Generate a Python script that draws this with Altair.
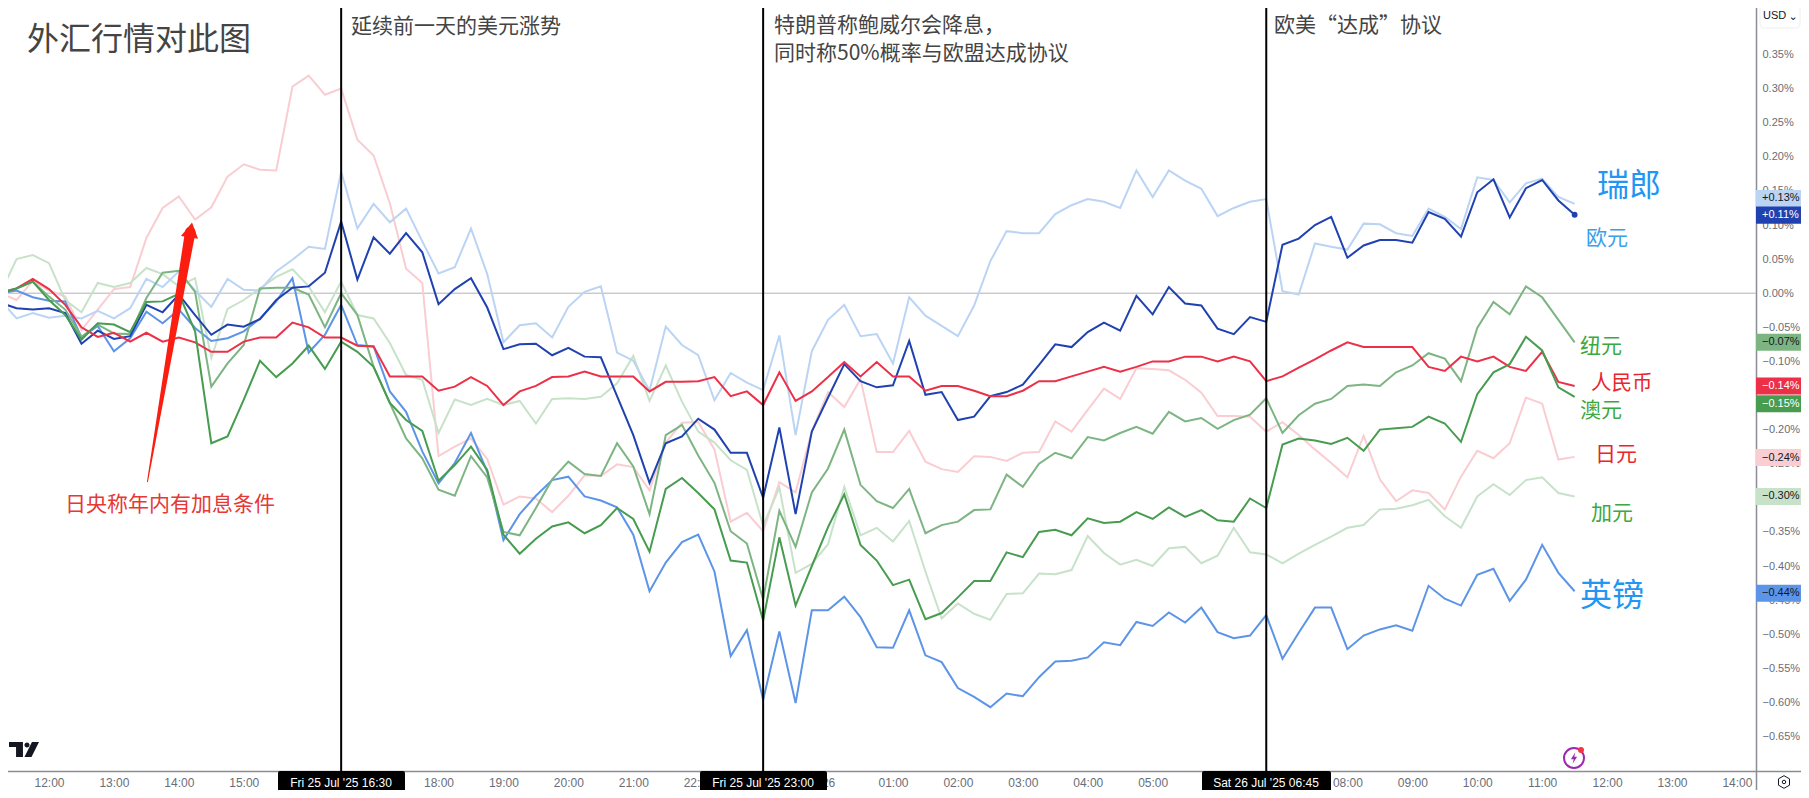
import altair as alt
import pandas as pd
from datetime import datetime, timedelta

SERIES_START = "2025-07-25 11:15"
POINTS = 98

EUR = [-.010,-.037,-.029,-.036,-.033,-.037,-.026,-.037,-.022,.021,
       .009,.032,.004,-.020,.021,.005,.004,.032,.049,.068,
       .065,.178,.095,.131,.104,.124,.076,.029,.038,.095,
       .028,-.072,-.047,-.044,-.065,-.020,.002,.010,-.087,-.099,
       -.143,-.049,-.076,-.091,-.157,-.117,-.131,-.142,-.062,-.208,
       -.085,-.039,-.017,-.063,-.060,-.103,-.006,-.033,-.048,-.063,
       -.018,.047,.091,.088,.088,.116,.129,.138,.134,.125,
       .180,.141,.180,.165,.153,.113,.125,.134,.138,.003,
       -.002,.073,.068,.064,.102,.101,.088,.084,.124,.112,
       .094,.170,.166,.133,.161,.168,.141,.131]
CHF = [-.014,-.022,-.024,-.022,-.029,-.074,-.055,-.067,-.063,-.017,
       -.028,-.002,-.032,-.061,-.046,-.049,-.038,-.010,.008,.010,
       .030,.105,.020,.082,.058,.088,.060,-.016,.006,.022,
       -.021,-.082,-.075,-.074,-.091,-.080,-.093,-.094,-.151,-.208,
       -.278,-.220,-.210,-.184,-.200,-.234,-.234,-.300,-.197,-.324,
       -.203,-.153,-.104,-.129,-.138,-.135,-.070,-.149,-.145,-.186,
       -.181,-.151,-.145,-.134,-.105,-.075,-.079,-.057,-.043,-.055,
       -.004,-.031,.009,-.015,-.018,-.052,-.060,-.035,-.042,.071,
       .080,.100,.112,.052,.070,.078,.078,.074,.119,.109,
       .083,.148,.167,.111,.154,.166,.136,.115]
GBP = [.000,.004,-.006,-.011,-.012,-.065,-.048,-.085,-.066,-.027,
       -.044,-.024,-.051,-.070,-.066,-.056,-.037,-.012,.022,-.087,
       -.061,-.017,-.076,-.078,-.144,-.174,-.232,-.279,-.249,-.205,
       -.262,-.362,-.324,-.297,-.274,-.269,-.298,-.304,-.314,-.354,
       -.437,-.395,-.365,-.354,-.408,-.532,-.494,-.596,-.496,-.601,
       -.465,-.465,-.445,-.475,-.519,-.520,-.465,-.531,-.541,-.579,
       -.592,-.607,-.587,-.591,-.563,-.540,-.539,-.534,-.512,-.516,
       -.482,-.488,-.468,-.483,-.461,-.497,-.506,-.502,-.472,-.536,
       -.498,-.461,-.461,-.522,-.502,-.493,-.487,-.495,-.429,-.448,
       -.458,-.413,-.404,-.451,-.420,-.369,-.410,-.437]
NZD = [.000,.007,.017,-.005,-.024,-.064,-.046,-.059,-.060,-.007,
       .030,.033,.002,-.137,-.103,-.076,.007,.008,.008,-.002,
       -.050,.000,-.032,-.108,-.161,-.213,-.242,-.288,-.297,-.239,
       -.270,-.350,-.355,-.315,-.273,-.247,-.265,-.268,-.220,-.254,
       -.324,-.208,-.193,-.238,-.278,-.349,-.367,-.449,-.319,-.372,
       -.292,-.257,-.200,-.281,-.305,-.315,-.287,-.352,-.340,-.335,
       -.318,-.317,-.266,-.284,-.250,-.234,-.242,-.211,-.216,-.205,
       -.196,-.206,-.174,-.188,-.183,-.199,-.186,-.178,-.154,-.205,
       -.179,-.162,-.155,-.136,-.134,-.136,-.116,-.106,-.088,-.096,
       -.129,-.051,-.013,-.031,.010,-.006,-.039,-.072]
AUD = [.001,.007,.017,-.010,-.032,-.068,-.044,-.046,-.057,-.013,
       -.012,-.001,-.056,-.220,-.210,-.156,-.099,-.123,-.103,-.077,
       -.111,-.071,-.086,-.108,-.161,-.186,-.202,-.275,-.252,-.225,
       -.259,-.354,-.382,-.360,-.342,-.336,-.352,-.340,-.315,-.331,
       -.379,-.287,-.271,-.293,-.317,-.392,-.395,-.480,-.358,-.458,
       -.400,-.343,-.295,-.369,-.392,-.428,-.420,-.478,-.469,-.446,
       -.422,-.422,-.380,-.387,-.350,-.347,-.355,-.330,-.337,-.335,
       -.321,-.331,-.314,-.328,-.318,-.333,-.335,-.301,-.315,-.222,
       -.213,-.216,-.221,-.212,-.231,-.200,-.198,-.196,-.181,-.191,
       -.218,-.148,-.116,-.104,-.064,-.084,-.138,-.152]
CAD = [.000,.050,.056,.044,-.010,-.028,.015,.009,.015,.037,
       .028,.010,.022,-.095,-.023,-.010,.007,.024,.035,.010,
       -.028,.017,-.032,-.037,-.073,-.120,-.127,-.205,-.156,-.164,
       -.155,-.164,-.158,-.191,-.155,-.154,-.155,-.152,-.132,-.092,
       -.158,-.106,-.159,-.203,-.219,-.245,-.259,-.341,-.285,-.410,
       -.397,-.368,-.284,-.355,-.344,-.364,-.334,-.408,-.477,-.455,
       -.470,-.479,-.441,-.440,-.411,-.412,-.406,-.356,-.381,-.398,
       -.391,-.400,-.374,-.372,-.396,-.385,-.344,-.380,-.383,-.396,
       -.382,-.369,-.357,-.344,-.340,-.317,-.316,-.311,-.303,-.327,
       -.344,-.298,-.280,-.296,-.274,-.270,-.293,-.298]
JPY = [.000,-.010,.018,.004,-.005,-.054,-.024,.006,.009,.081,
       .125,.142,.108,.126,.171,.189,.181,.180,.303,.319,
       .291,.300,.225,.202,.132,.036,.015,-.239,-.225,-.213,
       -.243,-.310,-.298,-.301,-.321,-.297,-.267,-.268,-.251,-.255,
       -.289,-.219,-.190,-.189,-.229,-.335,-.322,-.349,-.277,-.292,
       -.202,-.145,-.167,-.126,-.233,-.233,-.202,-.247,-.258,-.262,
       -.239,-.240,-.246,-.234,-.233,-.188,-.203,-.171,-.140,-.155,
       -.110,-.111,-.113,-.127,-.146,-.180,-.180,-.181,-.203,-.189,
       -.208,-.229,-.249,-.270,-.209,-.273,-.305,-.289,-.293,-.317,
       -.269,-.231,-.242,-.220,-.153,-.162,-.244,-.240]
CNY = [.000,.007,.021,.006,-.017,-.050,-.064,-.058,-.071,-.058,
       -.071,-.065,-.072,-.086,-.086,-.071,-.065,-.065,-.043,-.050,
       -.065,-.065,-.077,-.078,-.122,-.122,-.122,-.143,-.137,-.123,
       -.136,-.164,-.144,-.136,-.123,-.122,-.115,-.122,-.122,-.122,
       -.144,-.130,-.130,-.129,-.123,-.151,-.144,-.164,-.116,-.158,
       -.144,-.123,-.101,-.122,-.101,-.122,-.122,-.143,-.136,-.136,
       -.143,-.151,-.151,-.143,-.129,-.129,-.122,-.115,-.108,-.115,
       -.108,-.100,-.100,-.093,-.093,-.100,-.093,-.100,-.129,-.122,
       -.109,-.097,-.084,-.072,-.079,-.079,-.079,-.079,-.108,-.114,
       -.093,-.100,-.093,-.108,-.114,-.086,-.130,-.136]

SERIES = [("日元", JPY, "#f9cdd1"), ("加元", CAD, "#c8e2ca"), ("欧元", EUR, "#bbd4f4"),
          ("英镑", GBP, "#5c94e8"), ("纽元", NZD, "#7db582"), ("瑞郎", CHF, "#1f42b0"),
          ("人民币", CNY, "#ec3048"), ("澳元", AUD, "#479c4f")]

# hours after 12:00 on 25 Jul that carry a tick label; the others sit behind the crosshair tags
X_LABEL_HOURS = [0, 1, 2, 3, 6, 7, 8, 9, 10, 12, 13, 14, 15, 16, 17, 20, 21, 22, 23, 24, 25, 26]
Y_TICKS = [0.35, 0.30, 0.25, 0.20, 0.15, 0.10, 0.05, 0.00, -0.05, -0.10, -0.20,
           -0.25, -0.35, -0.40, -0.45, -0.50, -0.55, -0.60, -0.65]

EVENTS = [("2025-07-25 16:30", "Fri 25 Jul '25   16:30", 278, 405, 341),
          ("2025-07-25 23:00", "Fri 25 Jul '25   23:00", 700, 827, 763),
          ("2025-07-26 06:45", "Sat 26 Jul '25   06:45", 1202, 1331, 1266)]

PRICE_TAGS = [("+0.13%", .139, "#bbd4f4", "#131722"), ("+0.11%", .1145, "#1f42b0", "#ffffff"),
              ("−0.07%", -.072, "#7db582", "#131722"), ("−0.14%", -.136, "#ec3048", "#ffffff"),
              ("−0.15%", -.162, "#479c4f", "#ffffff"), ("−0.24%", -.241, "#f9cdd1", "#131722"),
              ("−0.30%", -.298, "#c8e2ca", "#131722"), ("−0.44%", -.440, "#5c94e8", "#131722")]

ANNOTATIONS = [
    ("外汇行情对此图", 27, 39.5, 32, "#444444"),
    ("延续前一天的美元涨势", 351, 27, 21, "#444444"),
    ("特朗普称鲍威尔会降息，", 774, 26, 21, "#444444"),
    ("同时称50%概率与欧盟达成协议", 774, 54, 21, "#444444"),
    ("欧美“达成”协议", 1274, 26, 21, "#444444"),
    ("瑞郎", 1597, 185.5, 32, "#2196f3"),
    ("欧元", 1586, 238.5, 21, "#3aa0ea"),
    ("纽元", 1580, 346.5, 21, "#3ba840"),
    ("人民币", 1591, 383.5, 20.5, "#e8262c"),
    ("澳元", 1580, 410.5, 21, "#3ba840"),
    ("日元", 1595, 454.5, 21, "#e8262c"),
    ("加元", 1591, 514, 21, "#3ba840"),
    ("英镑", 1580, 595.5, 32, "#2196f3"),
    ("日央称年内有加息条件", 65, 505, 21, "#e53935"),
]

ARROW_T = ["2025-07-25 13:31:00", "2025-07-25 14:10:30"]
ARROW_V = [-.2764, .0897]
ARROW_W = [1, 10.5]
ARROW_HEAD = ("2025-07-25 14:11:00", .0927)

PX_PER_HOUR = 64.92
X0 = 49.0
base = datetime(2025, 7, 25, 12)
FULL_W, FULL_H = 1801, 790
AXIS_X, AXIS_Y = 1756, 771
PX_PER_UNIT = 682.0
ZERO_Y = 293.2


def iso(d):
    return d.strftime("%Y-%m-%dT%H:%M:%S")


x_domain = [iso(base + timedelta(hours=-X0 / PX_PER_HOUR)),
            iso(base + timedelta(hours=(FULL_W - X0) / PX_PER_HOUR))]
y_domain = [(ZERO_Y - FULL_H) / PX_PER_UNIT, ZERO_Y / PX_PER_UNIT]
x_scale = alt.Scale(domain=x_domain)
y_scale = alt.Scale(domain=y_domain, nice=False, zero=False)

times = pd.date_range(SERIES_START, periods=POINTS, freq="15min").strftime("%Y-%m-%dT%H:%M:%S").tolist()
rows = []
for name, vals, _ in SERIES:
    assert len(vals) == POINTS, name
    rows += [{"series": name, "t": t, "v": v} for t, v in zip(times, vals)]
df = pd.DataFrame(rows)

GRAY = "#6a6d78"
FONT = "Liberation Sans"
CJK = "Noto Sans CJK SC"

x_axis = alt.Axis(
    title=None, orient="bottom", offset=AXIS_Y - FULL_H, grid=False, ticks=False,
    values=[iso(base + timedelta(hours=h)) for h in X_LABEL_HOURS],
    labelExpr="hours(datum.value)==0 ? '26' : timeFormat(datum.value,'%H:%M')",
    labelColor=GRAY, labelFont=FONT, labelFontSize=12, labelPadding=6, labelOverlap=False,
    labelFlush=False, domainColor="#8a8d96", domainWidth=1.5,
)
y_axis = alt.Axis(
    title=None, orient="right", offset=AXIS_X - FULL_W, grid=False, ticks=False,
    values=Y_TICKS,
    labelExpr="replace(format(datum.value,'.2f'),'-','−')+'%'",
    labelColor=GRAY, labelFont=FONT, labelFontSize=11, labelPadding=6, labelAlign="left",
    labelOverlap=False, labelFlush=False, domainColor="#8a8d96", domainWidth=1.5,
)


def X(f="t:T"):
    return alt.X(f, scale=x_scale, axis=x_axis)


def Y(f="v:Q"):
    return alt.Y(f, scale=y_scale, axis=y_axis)


zero_line = alt.Chart(pd.DataFrame({"v": [0.0]})).mark_rule(color="#b0b2ba", strokeWidth=1).encode(
    y=Y(), x=alt.value(0), x2=alt.value(AXIS_X))

lines = alt.Chart(df).mark_line(strokeWidth=2).encode(
    x=X(), y=Y(),
    color=alt.Color("series:N", legend=None,
                    scale=alt.Scale(domain=[s[0] for s in SERIES], range=[s[2] for s in SERIES])),
    detail="series:N",
)

last_dot = alt.Chart(pd.DataFrame({"t": [times[-1]], "v": [CHF[-1]]})).mark_point(
    filled=True, opacity=1, size=34, color="#1f42b0").encode(x=X(), y=Y())

ev_df = pd.DataFrame([{"t": e[0].replace(" ", "T") + ":00"} for e in EVENTS])
event_rules = alt.Chart(ev_df).mark_rule(color="#000000", strokeWidth=2).encode(
    x=X(), y=alt.value(0), y2=alt.value(AXIS_Y))

arrow_df = pd.DataFrame({"t": ARROW_T, "v": ARROW_V, "w": ARROW_W})
arrow_df["t"] = arrow_df["t"].str.replace(" ", "T")
arrow_body = alt.Chart(arrow_df).mark_trail(color="#fb1d10").encode(
    x=X(), y=Y(), size=alt.Size("w:Q", scale=None, legend=None))
arrow_head = alt.Chart(pd.DataFrame({"t": [ARROW_HEAD[0].replace(" ", "T")], "v": [ARROW_HEAD[1]]})).mark_point(
    shape="triangle-up", filled=True, opacity=1, size=300, angle=9.7, color="#fb1d10").encode(x=X(), y=Y())

one = pd.DataFrame({"a": [1]})


def text(s, x, y, size, color, align="left", font=CJK):
    return alt.Chart(one).mark_text(text=s, fontSize=size, color=color, align=align,
                                    baseline="middle", font=font).encode(
        x=alt.value(x), y=alt.value(y))


def box(x1, x2, y1, y2, fill, **kw):
    return alt.Chart(one).mark_rect(color=fill, **kw).encode(
        x=alt.value(x1), x2=alt.value(x2), y=alt.value(y1), y2=alt.value(y2))


layers = [zero_line, lines, last_dot, event_rules, arrow_body, arrow_head]

for s, x, y, size, c in ANNOTATIONS:
    layers.append(text(s, x, y, size, c))

for _, label, x1, x2, xc in EVENTS:
    layers.append(box(x1, x2, AXIS_Y, 795, "#000000", cornerRadius=2))
    layers.append(text(label, xc, 782.5, 12, "#ffffff", align="center", font=FONT))

for label, v, fill, fg in PRICE_TAGS:
    tag_df = pd.DataFrame({"v": [v + .0125], "v2": [v - .0125]})
    layers.append(alt.Chart(tag_df).mark_rect(color=fill).encode(
        y=Y(), y2="v2:Q", x=alt.value(AXIS_X), x2=alt.value(1807)))
    label_df = pd.DataFrame({"v": [v], "s": [label]})
    layers.append(alt.Chart(label_df).mark_text(font=FONT, fontSize=11, color=fg, align="left",
                                                baseline="middle").encode(
        y=Y(), x=alt.value(1762), text="s:N"))

# top-right currency selector
layers.append(alt.Chart(one).mark_rect(color="#ffffff", stroke="#eceef2", strokeWidth=1, cornerRadius=4).encode(
    x=alt.value(1760), x2=alt.value(1800), y=alt.value(3), y2=alt.value(28)))
layers.append(text("USD", 1763, 16, 11, "#131722", font=FONT))
layers.append(text("⌄", 1793, 17, 11, "#131722", align="center", font="DejaVu Sans"))

# logo, bolt badge, settings icon
LOGO = ("M-1,-0.5H-0.07V0.5H-0.53V-0.17H-1Z"
        "M0.2,-0.47A0.17,0.17 0 1 1 0.2,-0.13A0.17,0.17 0 1 1 0.2,-0.47Z"
        "M0.53,-0.5H1L0.5,0.5H0.03Z")
BOLT = "M0.25,-1L-0.55,0.2H-0.05L-0.25,1L0.55,-0.2H0.05Z"
HEX = "M0,-1L0.87,-0.5L0.87,0.5L0,1L-0.87,0.5L-0.87,-0.5Z"


def icon(shape, x, y, size, filled=True, color="#131722", width=1):
    return alt.Chart(one).mark_point(shape=shape, filled=filled, opacity=1, size=size, color=color,
                                     strokeWidth=width).encode(x=alt.value(x), y=alt.value(y))


layers.append(icon(LOGO, 24, 749.5, 900))
layers.append(icon("circle", 1574, 758, 400, filled=False, color="#9c27b0", width=2))
layers.append(icon(BOLT, 1574, 758, 130, color="#9c27b0"))
layers.append(icon("circle", 1581, 750, 36, color="#f23645"))
layers.append(icon(HEX, 1784, 782, 160, filled=False))
layers.append(icon("circle", 1784, 782, 12, filled=False))

chart = alt.layer(*layers).properties(
    width=FULL_W, height=FULL_H,
    autosize=alt.AutoSizeParams(type="none"),
    padding={"left": -8, "top": -8, "right": 0, "bottom": 0},
    background="#ffffff",
).configure_view(stroke=None)

chart.save("out.html", embed_options={"renderer": "svg", "actions": False})
